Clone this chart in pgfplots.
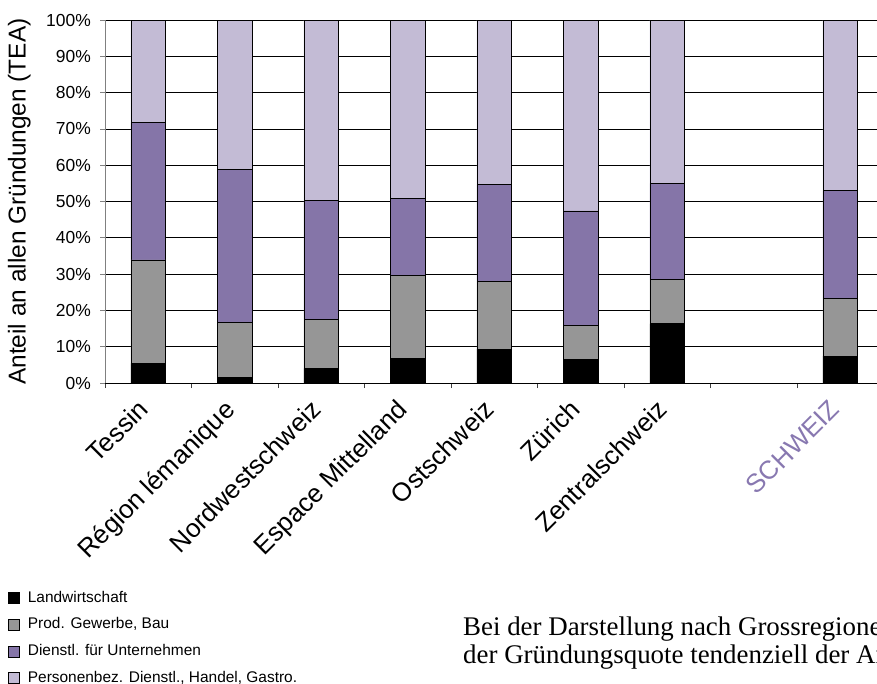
\documentclass[border=0pt]{standalone}
\usepackage{pgfplots}
\pgfplotsset{compat=1.18}
\usepackage{fontspec}
\setmainfont{Liberation Sans}
\newfontfamily\bodyserif{Liberation Serif}
\definecolor{cgray}{HTML}{969696}
\definecolor{cpurple}{HTML}{8575A8}
\definecolor{clight}{HTML}{C3BBD5}
\definecolor{cschweiz}{HTML}{8878B0}
\pgfplotsset{sqlegend/.style={legend image code/.code={\draw[##1,line width=0.7bp] (0bp,-5.5bp) rectangle (11bp,5.5bp);}}}
\begin{document}
\begin{tikzpicture}
\path (0,0) rectangle (877bp,-684bp);
\clip (0,0) rectangle (877bp,-684bp);
\begin{pgfinterruptboundingbox}
\begin{axis}[
  at={(105bp,-383bp)}, anchor=south west, scale only axis,
  width=778.5bp, height=363bp,
  xmin=-0.5, xmax=8.5, ymin=0, ymax=100,
  ybar stacked, bar width=34.7bp,
  axis x line*=bottom, axis y line*=left,
  x axis line style={black, line width=0.8bp},
  y axis line style={gray, line width=0.8bp},
  tick align=outside, major tick length=5bp,
  ytick={0,10,...,100},
  yticklabel={\pgfmathprintnumber[assume math mode=true]{\tick}\%},
  yticklabel style={font=\fontsize{17.5}{17.5}\selectfont, inner sep=0pt, xshift=-9bp},
  ytick style={gray, line width=0.8bp},
  xtick style={darkgray, line width=0.8bp},
  ymajorgrids, major grid style={black, line width=0.8bp},
  xtick={-0.5,0.5,1.5,2.5,3.5,4.5,5.5,6.5,7.5,8.5},
  x tick label as interval,
  xticklabels={Tessin, Région lémanique, Nordwestschweiz, Espace Mittelland, Ostschweiz, Zürich, Zentralschweiz, {}, \textcolor{cschweiz}{SCHWEIZ}},
  x tick label style={rotate=45, anchor=north east, inner sep=0pt, xshift=-15.5bp, yshift=1.4bp, font=\fontsize{26}{26}\selectfont},
  every axis y label/.style={at={(axis description cs:-0.09506,0.5)}, rotate=90, anchor=south, inner sep=0pt, font=\fontsize{24.5}{24.5}\selectfont},
  ylabel={Anteil an allen Gründungen (TEA)},
  legend style={at={(axis description cs:-0.1246,-0.573)}, anchor=north west, draw=none, fill=none, inner sep=0pt, font=\fontsize{15.5}{15.5}\selectfont, row sep=12.6bp, nodes={inner sep=0pt, text height=11bp, text depth=3bp}, /tikz/every odd column/.append style={column sep=8bp}},
  legend cell align=left,
]
\addplot[fill=black, draw=black, line width=0.8bp, sqlegend] coordinates {(0,5.4) (1,1.6) (2,4.0) (3,6.8) (4,9.3) (5,6.5) (6,16.3) (8,7.4)};
\addplot[fill=cgray, draw=black, line width=0.8bp, sqlegend] coordinates {(0,28.5) (1,15.2) (2,13.6) (3,22.8) (4,18.8) (5,9.3) (6,12.3) (8,15.8)};
\addplot[fill=cpurple, draw=black, line width=0.8bp, sqlegend] coordinates {(0,37.8) (1,42.1) (2,32.6) (3,21.3) (4,26.6) (5,31.6) (6,26.4) (8,29.8)};
\addplot[fill=clight, draw=black, line width=0.8bp, sqlegend] coordinates {(0,28.3) (1,41.1) (2,49.8) (3,49.1) (4,45.3) (5,52.6) (6,45.0) (8,47.0)};
\legend{Landwirtschaft, {Prod. Gewerbe, Bau}, Dienstl. für Unternehmen, {Personenbez. Dienstl., Handel, Gastro.}}
\end{axis}
\node[anchor=base west, inner sep=0pt, font=\bodyserif\fontsize{27}{27}\selectfont] at (463bp,-635bp) {Bei der Darstellung nach Grossregionen};
\node[anchor=base west, inner sep=0pt, font=\bodyserif\fontsize{27}{27}\selectfont] at (463bp,-663bp) {der Gründungsquote tendenziell der Anteil};
\end{pgfinterruptboundingbox}
\end{tikzpicture}
\end{document}
